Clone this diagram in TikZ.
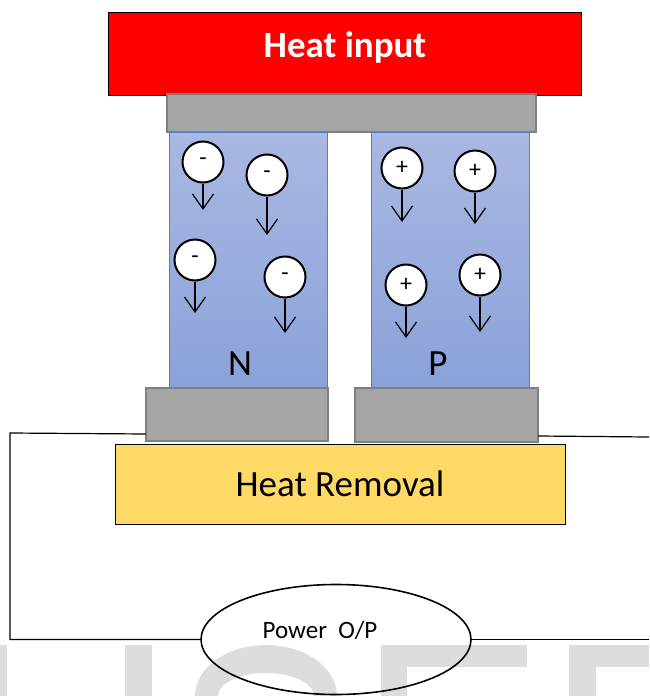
\documentclass[tikz,border=0pt]{standalone}
\usepackage{fontspec}
\setmainfont{Carlito}
\usetikzlibrary{arrows.meta,shapes.geometric}
\definecolor{heatred}{HTML}{FF0000}
\definecolor{plategray}{HTML}{A5A5A5}
\definecolor{plateedge}{HTML}{7F7F7F}
\definecolor{legtop}{HTML}{AAB8E2}
\definecolor{legbot}{HTML}{8AA2D9}
\definecolor{legedge}{HTML}{4F7FD0}
\definecolor{removal}{HTML}{FFD966}
\definecolor{wmark}{HTML}{DDDDDD}
\tikzset{
  box/.style={rectangle, inner sep=0pt, outer sep=0pt},
  plate/.style={box, fill=plategray, draw=plateedge, line width=2pt},
  leg/.style={box, top color=legtop, bottom color=legbot, draw=legedge, line width=1pt},
  carrier/.style={circle, draw=black, fill=white, line width=2pt, minimum size=41pt, inner sep=0pt, font=\fontsize{24}{24}\selectfont},
  flow/.style={-{Straight Barb[length=15pt,width=21pt,line width=1.2pt]}, line width=1.2pt},
  wire/.style={line width=1.2pt},
}
\begin{document}
\begin{tikzpicture}[x=1pt,y=-1pt]
\useasboundingbox (0,0) rectangle (649,696);
% watermark
\fill[wmark] (0,645) rectangle (7,696);
\fill[wmark] (125,645) rectangle (152,696);
\fill[wmark,even odd rule] (266,696) ellipse[x radius=71, y radius=51] (266,696) ellipse[x radius=48, y radius=23];
\fill[wmark] (381,645) rectangle (407,696);
\fill[wmark] (381,645) rectangle (527,667);
\fill[wmark] (569,645) rectangle (596,696);
\fill[wmark] (569,645) rectangle (649,667);
% heat input
\node[box, fill=heatred, draw=black, line width=1pt, minimum width=473pt, minimum height=83pt] (hin) at (344.5,53.5) {};
\node[text=white, font=\fontsize{37}{37}\selectfont\bfseries] (hint) at (345,47) {Heat input};
\node[plate, minimum width=369pt, minimum height=38pt] (top) at (351.5,113) {};
% legs
\node[leg, minimum width=158pt, minimum height=256pt] (nleg) at (248,260) {};
\node[leg, minimum width=158pt, minimum height=256pt] (pleg) at (450,260) {};
\node[font=\fontsize{37}{37}\selectfont] (nl) at (240,364) {N};
\node[font=\fontsize{37}{37}\selectfont] (pl) at (438,364) {P};
% carriers N
\node[carrier] (n1) at (203,162) {-};
\node[carrier] (n2) at (267,175) {-};
\node[carrier] (n3) at (195,260) {-};
\node[carrier] (n4) at (285,277) {-};
\coordinate (n1e) at (203,210);
\coordinate (n2e) at (267,235);
\coordinate (n3e) at (195,313);
\coordinate (n4e) at (285,333);
\draw[flow] (n1.south) -- (n1e);
\draw[flow] (n2.south) -- (n2e);
\draw[flow] (n3.south) -- (n3e);
\draw[flow] (n4.south) -- (n4e);
% carriers P
\node[carrier] (p1) at (402,168) {+};
\node[carrier] (p2) at (475,171) {+};
\node[carrier] (p3) at (406,285) {+};
\node[carrier] (p4) at (480,275) {+};
\coordinate (p1e) at (402,222);
\coordinate (p2e) at (475,224);
\coordinate (p3e) at (406,338);
\coordinate (p4e) at (480,332);
\draw[flow] (p1.south) -- (p1e);
\draw[flow] (p2.south) -- (p2e);
\draw[flow] (p3.south) -- (p3e);
\draw[flow] (p4.south) -- (p4e);
% bottom plates
\node[plate, minimum width=182pt, minimum height=53pt] (bl) at (237,414.5) {};
\node[plate, minimum width=183pt, minimum height=54pt] (br) at (446.5,415) {};
% heat removal
\node[box, fill=removal, draw=black, line width=1pt, minimum width=450pt, minimum height=80pt, font=\fontsize{37}{37}\selectfont] (hr) at (340,484) {Heat Removal};
% power output
\node[ellipse, draw=black, line width=1.6pt, minimum width=270pt, minimum height=110pt, inner sep=0pt] (pw) at (336,639.5) {};
\node[font=\fontsize{25}{25}\selectfont] (pwt) at (320,630) {Power\ \ O/P};
% wires
\coordinate (wl1) at (10,433);
\coordinate (wl2) at (10,639.5);
\coordinate (wr1) at (649,437);
\coordinate (wr2) at (649,639.5);
\draw[wire] ([yshift=7pt]bl.south west) -- (wl1) -- (wl2) -- (pw.west);
\draw[wire] ([yshift=6pt]br.south east) -- (wr1);
\draw[wire] (pw.east) -- (wr2);
\end{tikzpicture}
\end{document}
